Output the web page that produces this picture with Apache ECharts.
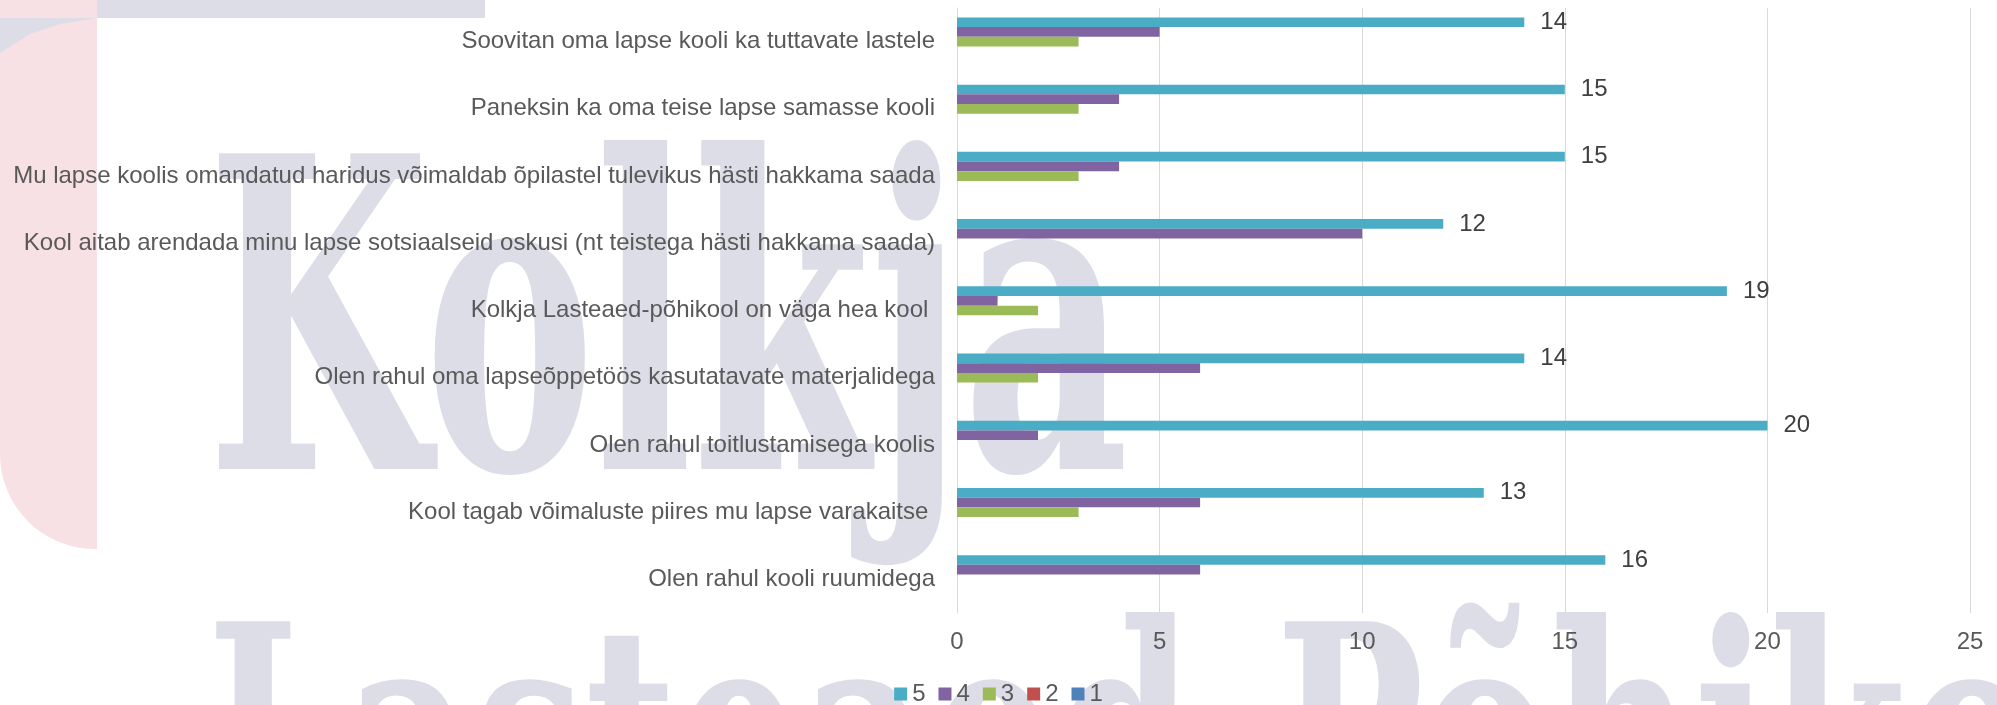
<!DOCTYPE html>
<html>
<head>
<meta charset="utf-8">
<script src="https://cdn.jsdelivr.net/npm/echarts@6/dist/echarts.min.js"></script>
<style>
html,body{margin:0;padding:0;background:#fff;}
#chart{width:1997px;height:705px;}
</style>
</head>
<body>
<div id="chart"></div>
<script>
const categories = [
  'Soovitan oma lapse kooli ka tuttavate lastele',
  'Paneksin ka oma teise lapse samasse kooli',
  'Mu lapse koolis omandatud haridus võimaldab õpilastel tulevikus hästi hakkama saada',
  'Kool aitab arendada minu lapse sotsiaalseid oskusi (nt teistega hästi hakkama saada)',
  'Kolkja Lasteaed-põhikool on väga hea kool ',
  'Olen rahul oma lapseõppetöös kasutatavate materjalidega',
  'Olen rahul toitlustamisega koolis',
  'Kool tagab võimaluste piires mu lapse varakaitse ',
  'Olen rahul kooli ruumidega'
];
const seriesNames = ['5', '4', '3', '2', '1'];
const values5 = [14, 15, 15, 12, 19, 14, 20, 13, 16];
const values4 = [5, 4, 4, 10, 1, 6, 2, 6, 6];
const values3 = [3, 3, 3, 0, 2, 2, 0, 3, 0];
const values2 = [0, 0, 0, 0, 0, 0, 0, 0, 0];
const values1 = [0, 0, 0, 0, 0, 0, 0, 0, 0];
const xTicks = [0, 5, 10, 15, 20, 25];

const colors = ['#4bacc6', '#8064a2', '#9bbb59', '#c0504d', '#4f81bd'];
const FONT = '"Liberation Sans", Arial, sans-serif';
const WM = '#dddde8';
const PINK = '#f7e1e5';

const chart = echarts.init(document.getElementById('chart'), null, {renderer: 'canvas'});

const allValues = [values5, values4, values3, values2, values1];
const series = seriesNames.map((name, i) => ({
  name: name,
  type: 'bar',
  data: allValues[i],
  itemStyle: {color: colors[i]},
  barGap: '0%',
  barCategoryGap: '28%',
  label: i === 0 ? {
    show: true, position: 'right', distance: 16,
    fontSize: 24, fontFamily: FONT, color: '#404040'
  } : {show: false}
}));

chart.setOption({
  animation: false,
  color: colors,
  graphic: [
    {type: 'rect', z: -10, shape: {x: 0, y: 0, width: 97, height: 549, r: [0, 0, 0, 95]}, style: {fill: PINK}},
    {type: 'rect', z: -10, shape: {x: 97, y: 0, width: 388, height: 18}, style: {fill: WM}},
    {type: 'polygon', z: -9, shape: {points: [[0, 18], [97, 18], [60, 24], [30, 34], [0, 53]]}, style: {fill: WM}},
    {type: 'text', z: -10, x: 207, y: 573, scaleX: 0.592, scaleY: 1,
      style: {text: 'Kolkja', font: 'bold 433px "DejaVu Serif"', fill: WM, verticalAlign: 'bottom', align: 'left'}},
    {type: 'text', z: -10, x: 207, y: 909, scaleX: 0.665, scaleY: 1,
      style: {text: 'Lasteaed-Põhikool', font: 'bold 297px "DejaVu Serif"', fill: WM, verticalAlign: 'bottom', align: 'left'}}
  ],
  legend: {
    data: seriesNames,
    left: 'center',
    top: 677,
    itemWidth: 13,
    itemHeight: 13,
    itemGap: 13,
    icon: 'rect',
    textStyle: {fontSize: 24, fontFamily: FONT, color: '#595959'}
  },
  grid: {left: 957, right: 27, top: 8, bottom: 92, containLabel: false},
  xAxis: {
    type: 'value',
    min: xTicks[0],
    max: xTicks[xTicks.length - 1],
    interval: 5,
    axisLine: {show: false},
    axisTick: {show: false},
    splitLine: {show: true, lineStyle: {color: '#d9d9d9', width: 1}},
    axisLabel: {fontSize: 24, fontFamily: FONT, color: '#595959', margin: 17}
  },
  yAxis: {
    type: 'category',
    data: categories,
    inverse: true,
    axisLine: {show: true, lineStyle: {color: '#d9d9d9', width: 1}},
    axisTick: {show: false},
    axisLabel: {fontSize: 24, fontFamily: FONT, color: '#595959', margin: 22}
  },
  series: series
});
</script>
</body>
</html>
